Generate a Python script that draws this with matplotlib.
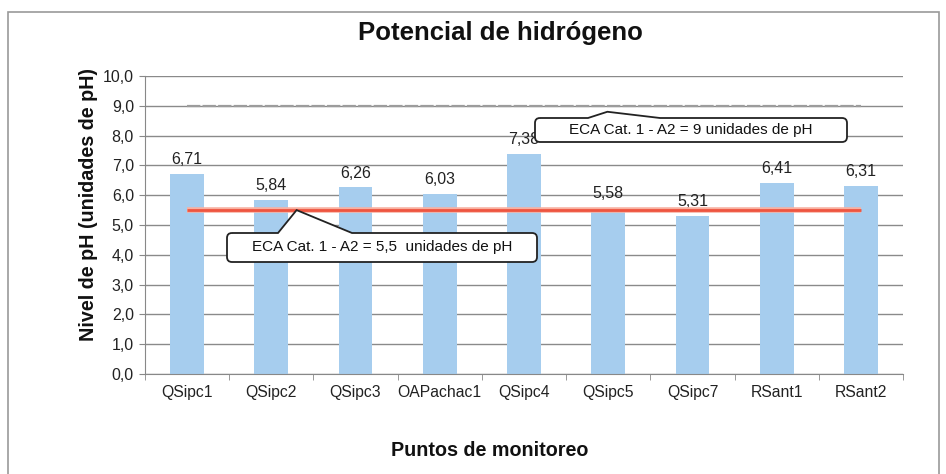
import matplotlib
matplotlib.use("Agg")
import matplotlib.pyplot as plt
from matplotlib.path import Path
from matplotlib.patches import PathPatch, Rectangle
from matplotlib.transforms import IdentityTransform

plt.rcParams['font.family'] = ['Liberation Sans', 'DejaVu Sans']

categories = ["QSipc1", "QSipc2", "QSipc3", "OAPachac1", "QSipc4", "QSipc5", "QSipc7", "RSant1", "RSant2"]
ph_values = [6.71, 5.84, 6.26, 6.03, 7.38, 5.58, 5.31, 6.41, 6.31]
eca_min = 5.5
eca_max = 9.0
yticks = [0, 1, 2, 3, 4, 5, 6, 7, 8, 9, 10]

W, H = 946, 474
fig = plt.figure(figsize=(W / 100, H / 100), dpi=100)
fig.patch.set_facecolor('white')

# outer chart frame
fig.patches.append(Rectangle((8 / W, -0.02), 931 / W, 1 - 12 / H + 0.02, transform=fig.transFigure,
                             fill=False, edgecolor='#9a9a9a', linewidth=1.2))

ax = fig.add_axes([145 / W, 1 - 374 / H, 758 / W, 298 / H])
x = list(range(len(categories)))
ax.set_xlim(-0.5, len(categories) - 0.5)
ax.set_ylim(0, 10)

ax.bar(x, ph_values, width=0.4, color='#A6CDEE', zorder=2)

for xi, v in zip(x, ph_values):
    ax.annotate(f"{v:.2f}".replace('.', ','), (xi, v), xytext=(0, 5), textcoords='offset points',
                ha='center', va='bottom', fontsize=11.5, color='#222222', zorder=3)

ax.plot([x[0], x[-1]], [eca_max, eca_max], color='#9c9c9c', linewidth=1.6, linestyle=(0, (6, 1)), zorder=3)
ax.plot([x[0], x[-1]], [eca_min, eca_min], color='#F8B0A0', linewidth=4.0, zorder=3, solid_capstyle='butt')
ax.plot([x[0], x[-1]], [eca_min, eca_min], color='#EE5540', linewidth=2.0, zorder=3, solid_capstyle='butt')

ax.set_yticks(yticks)
ax.set_yticklabels([f"{t:.1f}".replace('.', ',') for t in yticks], fontsize=11.5, color='#222222')
ax.yaxis.grid(True, color='#8a8a8a', linewidth=1.0, zorder=1)
ax.set_axisbelow(True)

ax.set_xticks(x)
ax.set_xticklabels(categories, fontsize=11.3, color='#222222')
ax.set_xticks([i - 0.5 for i in range(len(categories) + 1)], minor=True)
ax.tick_params(axis='x', which='major', length=0, pad=8)
ax.tick_params(axis='x', which='minor', length=4, color='#888888')
ax.tick_params(axis='y', length=4, color='#888888', pad=4)

for s in ['top', 'right']:
    ax.spines[s].set_visible(False)
for s in ['left', 'bottom']:
    ax.spines[s].set_color('#888888')

fig.text(500 / W, 1 - 33 / H, "Potencial de hidrógeno", ha='center', va='center', fontsize=18.5,
         fontweight='bold', color='#111111')
fig.text(88 / W, 1 - 205 / H, "Nivel de pH (unidades de pH)", ha='center', va='center', rotation=90,
         fontsize=14.2, fontweight='bold', color='#111111')
fig.text(490 / W, 1 - 451 / H, "Puntos de monitoreo", ha='center', va='center', fontsize=14.2,
         fontweight='bold', color='#111111')


def callout(x0, y0, x1, y1, px0, px1, tip, text, fs):
    """Rounded box (pixel coords, y from top) with a pointer on its top edge going to tip (display coords)."""
    r = 5
    def P(a, b):
        return (a, H - b)
    verts = [P(x0 + r, y0), P(px0, y0), (tip[0], tip[1]), P(px1, y0), P(x1 - r, y0),
             P(x1, y0), P(x1, y0 + r),
             P(x1, y1 - r), P(x1, y1), P(x1 - r, y1),
             P(x0 + r, y1), P(x0, y1), P(x0, y1 - r),
             P(x0, y0 + r), P(x0, y0), P(x0 + r, y0)]
    codes = [Path.MOVETO, Path.LINETO, Path.LINETO, Path.LINETO, Path.LINETO,
             Path.CURVE3, Path.CURVE3,
             Path.LINETO, Path.CURVE3, Path.CURVE3,
             Path.LINETO, Path.CURVE3, Path.CURVE3,
             Path.LINETO, Path.CURVE3, Path.CURVE3]
    patch = PathPatch(Path(verts, codes), facecolor='white', edgecolor='#222222', linewidth=1.3,
                      transform=IdentityTransform(), zorder=10)
    fig.patches.append(patch)
    fig.text((x0 + x1) / 2 / W, 1 - (y0 + y1) / 2 / H, text, ha='center', va='center', fontsize=fs,
             color='#111111', zorder=11)


fig.canvas.draw()
tip_max = ax.transData.transform((4.99, eca_max - 0.2))
tip_min = ax.transData.transform((1.3, eca_min))
callout(535, 118, 847, 142, 588, 660, tip_max, "ECA Cat. 1 - A2 = 9 unidades de pH", 11)
callout(227, 233, 537, 262, 278, 352, tip_min, "ECA Cat. 1 - A2 = 5,5  unidades de pH", 11)

fig.savefig("out.png", dpi=100, facecolor='white')
